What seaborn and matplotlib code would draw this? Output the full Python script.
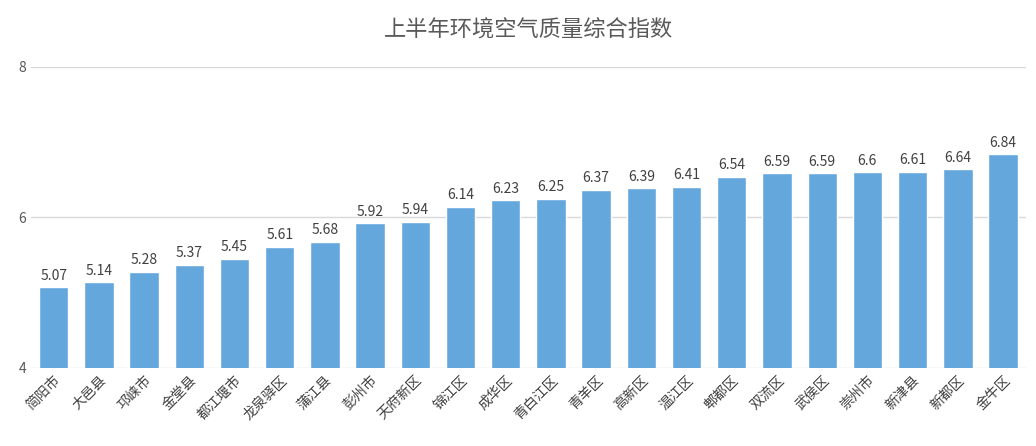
import pandas as pd
import matplotlib.pyplot as plt
import seaborn as sns

# data
districts = ["简阳市", "大邑县", "邛崃市", "金堂县", "都江堰市", "龙泉驿区", "蒲江县", "彭州市",
             "天府新区", "锦江区", "成华区", "青白江区", "青羊区", "高新区", "温江区", "郫都区",
             "双流区", "武侯区", "崇州市", "新津县", "新都区", "金牛区"]
index_values = [5.07, 5.14, 5.28, 5.37, 5.45, 5.61, 5.68, 5.92, 5.94, 6.14, 6.23,
                6.25, 6.37, 6.39, 6.41, 6.54, 6.59, 6.59, 6.6, 6.61, 6.64, 6.84]

df = pd.DataFrame({"区县": districts, "指数": index_values})

sns.set_style("white")
plt.rcParams["font.family"] = ["Noto Sans CJK SC", "DejaVu Sans"]

fig, ax = plt.subplots(figsize=(10.36, 4.46), dpi=100)
fig.subplots_adjust(left=0.03, right=0.99, top=0.85, bottom=0.175)

sns.barplot(data=df, x="区县", y="指数", color="#64A7DD", width=0.65, ax=ax, saturation=1)

for i, v in enumerate(index_values):
    ax.text(i, v + 0.06, f"{v:g}", ha="center", va="bottom", fontsize=10, color="#404040")

ax.set_ylim(4, 8)
ax.set_yticks([4, 6, 8])
ax.yaxis.grid(True, color="#D9D9D9", linewidth=1)
ax.set_axisbelow(True)
sns.despine(left=True, bottom=True)
ax.set_xlabel("")
ax.set_ylabel("")
ax.tick_params(axis="y", length=0, labelsize=10, colors="#595959")
ax.tick_params(axis="x", length=0, labelsize=10, colors="#404040")
plt.setp(ax.get_xticklabels(), rotation=45, ha="right", rotation_mode="anchor")
ax.set_title("上半年环境空气质量综合指数", fontsize=16, color="#595959", pad=22)

fig.savefig("out.png", dpi=100)
